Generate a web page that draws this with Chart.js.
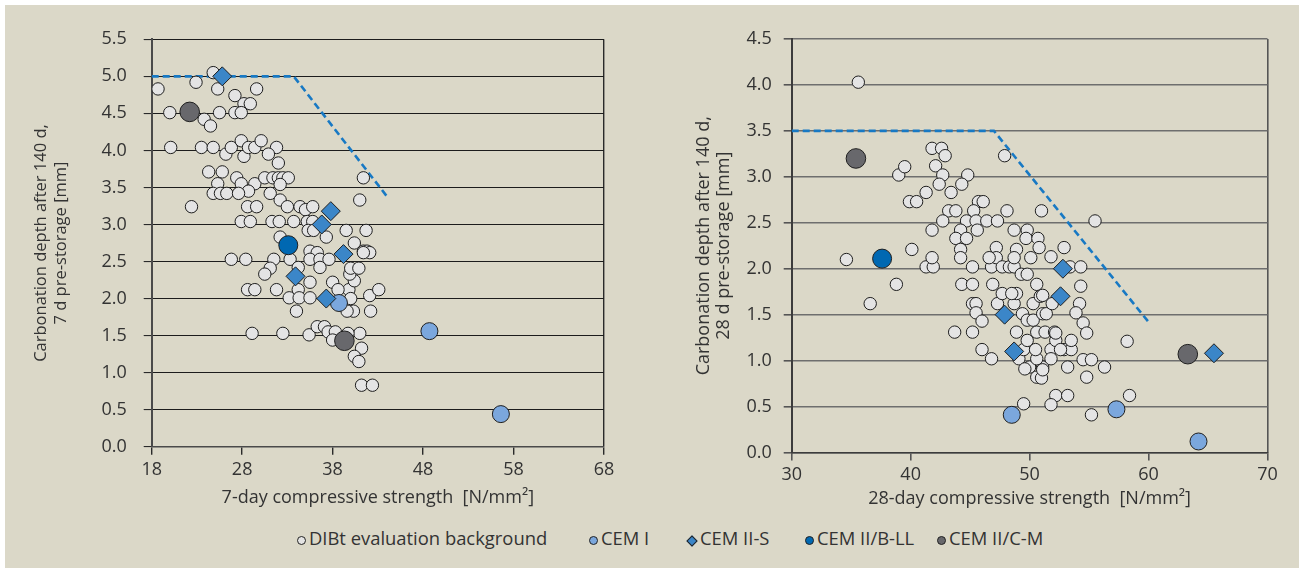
<!DOCTYPE html>
<html>
<head>
<meta charset="utf-8">
<title>Carbonation depth vs. compressive strength</title>
<script src="https://cdn.jsdelivr.net/npm/chart.js@4.4.0/dist/chart.umd.min.js"></script>
<style>
  html, body { margin: 0; padding: 0; background: #ffffff; }
  #panel { position: absolute; left: 5px; top: 5px; width: 1294px; height: 563px; background: #dbd8c8; }
  canvas { position: absolute; top: 0; }
  #chart7 { left: 0; }
  #chart28 { left: 640px; }
  .key { position: absolute; top: 526px; font: 18.4px "Open Sans", "Noto Sans", sans-serif; color: #333333; white-space: nowrap; line-height: 24px; }
  .key i { display: inline-block; width: 9px; height: 9px; border: 1px solid #222; border-radius: 50%; margin-right: 3px; vertical-align: 0px; box-sizing: border-box; }
  .key i.dia { width: 8px; height: 8px; border-radius: 0; transform: rotate(45deg); margin-right: 4px; margin-left: 1px; }
</style>
</head>
<body>
<div id="panel"></div>
<canvas id="chart7" width="640" height="520"></canvas>
<canvas id="chart28" width="660" height="520"></canvas>

<div class="key" style="left:297px"><i style="background:#e4e4e4"></i>DIBt evaluation background</div>
<div class="key" style="left:589px"><i style="background:#7ba7dd"></i>CEM I</div>
<div class="key" style="left:687px"><i class="dia" style="background:#3b86c8"></i>CEM II-S</div>
<div class="key" style="left:805px"><i style="background:#0068b2"></i>CEM II/B-LL</div>
<div class="key" style="left:937px"><i style="background:#68686c"></i>CEM II/C-M</div>

<script>
// ---- Axis ticks ----
const strength7Ticks = [18, 28, 38, 48, 58, 68];
const depth7Ticks = [0, 0.5, 1, 1.5, 2, 2.5, 3, 3.5, 4, 4.5, 5, 5.5];
const strength28Ticks = [30, 40, 50, 60, 70];
const depth28Ticks = [0, 0.5, 1, 1.5, 2, 2.5, 3, 3.5, 4, 4.5];

// ---- 7 d pre-storage: [7-day strength N/mm², carbonation depth mm] ----
const dibt7 = [
  [18.7,4.83],[22.9,4.92],[24.8,5.05],[25.3,4.83],[29.6,4.83],[27.2,4.74],[28.2,4.63],[28.9,4.63],
  [20.0,4.51],[23.8,4.42],[24.5,4.33],[25.5,4.51],[27.2,4.51],[27.9,4.51],
  [20.1,4.04],[23.5,4.04],[24.8,4.04],[26.2,3.95],[26.8,4.04],[27.9,4.13],[28.2,3.92],[28.7,4.04],
  [29.4,4.04],[30.1,4.13],[31.8,4.04],[30.9,3.95],[32.0,3.83],
  [24.3,3.71],[25.8,3.71],[25.3,3.55],[27.4,3.63],[27.9,3.55],[29.4,3.55],[28.7,3.45],
  [24.8,3.42],[25.6,3.42],[26.3,3.42],[27.6,3.42],[30.5,3.63],[31.4,3.63],[32.0,3.63],[32.5,3.63],
  [33.1,3.63],[32.2,3.54],[31.1,3.42],[32.2,3.33],[33.0,3.24],[22.4,3.24],[28.6,3.24],[29.6,3.24],
  [27.9,3.04],[28.9,3.04],[31.3,3.04],[32.1,3.04],[33.7,3.04],[34.4,3.24],[35.0,3.20],[35.8,3.24],
  [35.2,3.04],[35.8,3.04],[35.3,2.92],[35.9,2.92],[37.3,2.83],[39.5,2.92],[41.7,2.92],
  [41.4,3.63],[41.0,3.33],[40.4,2.75],[41.4,2.64],[41.8,2.64],[32.2,2.83],
  [26.8,2.53],[28.4,2.53],[31.5,2.53],[31.1,2.41],[30.5,2.33],[33.3,2.53],[34.2,2.42],
  [35.5,2.64],[36.3,2.62],[35.5,2.53],[36.6,2.53],[37.6,2.53],[36.6,2.42],[35.5,2.22],
  [34.2,2.12],[31.8,2.12],[28.6,2.12],[29.4,2.12],[33.2,2.01],[34.3,2.01],[35.5,2.01],[34.0,1.83],
  [38.0,2.22],[39.8,2.12],[40.4,2.24],[39.9,2.33],[40.0,2.41],[40.9,2.41],[42.1,2.62],[41.4,2.62],
  [40.3,1.83],[39.6,1.83],[42.1,2.04],[43.1,2.12],[42.2,1.83],[40.0,2.00],[38.6,2.12],
  [29.1,1.53],[32.5,1.53],[35.4,1.51],[36.3,1.62],[37.1,1.62],[37.5,1.55],[38.3,1.55],[38.0,1.44],
  [41.0,1.53],[39.7,1.53],[41.2,1.33],[40.4,1.22],[40.9,1.15],[41.2,0.83],[42.4,0.83]
];
const cemI7 = [[48.7,1.56],[56.6,0.44],[38.7,1.94]];
const cemIIS7 = [[25.8,5.0],[37.8,3.18],[36.8,3.0],[39.2,2.6],[33.9,2.3],[37.3,2.0]];
const cemIIBLL7 = [[33.1,2.72]];
const cemIICM7 = [[22.2,4.52],[39.3,1.43]];
const limit7 = [[18,5.0],[33.7,5.0],[44.0,3.38]];

// ---- 28 d pre-storage: [28-day strength N/mm², carbonation depth mm] ----
const dibt28 = [
  [35.6,4.03],[39.0,3.02],[39.5,3.11],[41.8,3.31],[42.6,3.31],[42.9,3.23],[42.1,3.12],[42.7,3.02],
  [42.4,2.92],[43.4,2.83],[41.3,2.83],[39.9,2.73],[40.5,2.73],[44.8,3.02],[44.3,2.92],[47.9,3.23],
  [45.7,2.73],[46.1,2.73],[43.2,2.63],[43.8,2.63],[45.3,2.63],[48.1,2.63],[51.0,2.63],
  [42.7,2.52],[44.7,2.52],[45.5,2.52],[46.4,2.52],[47.3,2.52],[41.8,2.42],[44.2,2.42],[45.6,2.42],
  [48.7,2.42],[49.8,2.42],[43.8,2.33],[44.7,2.33],[44.2,2.21],[40.1,2.21],[47.2,2.23],[48.9,2.21],
  [49.7,2.33],[50.7,2.33],[50.8,2.23],[51.8,2.13],[52.9,2.23],
  [34.6,2.10],[36.6,1.62],[38.8,1.83],[41.3,2.02],[41.9,2.02],[41.8,2.12],[43.7,1.31],[45.2,1.31],
  [44.3,1.83],[45.2,1.83],[45.2,1.62],[45.2,2.02],[44.2,2.12],[45.5,1.62],[45.5,1.52],[46.0,1.43],
  [46.0,1.12],[46.8,1.02],[46.8,2.02],[47.2,2.12],[46.6,2.12],[46.9,1.83],[47.3,1.62],[47.7,1.73],
  [47.7,2.02],[48.3,2.02],[48.7,2.02],[48.7,2.12],[48.7,1.62],[48.9,1.73],[48.5,1.73],[49.3,1.94],
  [49.8,1.94],[49.4,1.51],[48.9,1.31],[49.1,1.02],[49.5,1.12],[49.8,1.22],[49.8,1.44],[50.3,1.44],
  [50.0,0.93],[49.6,0.91],[50.6,0.82],[51.0,0.81],[51.1,0.93],[50.6,1.02],[50.5,1.12],[50.6,1.31],
  [51.3,1.31],[50.3,1.62],[50.9,1.70],[51.1,1.51],[50.6,1.83],[50.1,2.12],[51.4,1.51],[51.9,1.62],
  [51.8,1.12],[52.2,1.22],[52.9,1.12],[53.5,1.12],[53.5,1.22],[51.8,1.02],[52.1,1.31],[53.2,0.93],
  [52.2,0.62],[53.2,0.62],[51.8,0.52],[49.5,0.53],[53.4,2.02],[55.5,2.52],[54.3,2.02],[54.3,1.81],
  [51.1,1.71],[54.2,1.62],[53.9,1.52],[54.5,1.41],[54.8,1.30],[52.2,1.30],[52.6,1.12],[54.5,1.01],
  [55.2,1.01],[56.3,0.93],[51.1,0.90],[54.8,0.82],[55.2,0.41],[58.4,0.62],[58.2,1.21]
];
const cemI28 = [[48.5,0.41],[57.3,0.47],[64.2,0.12]];
const cemIIS28 = [[47.9,1.5],[48.7,1.1],[52.6,1.7],[52.8,2.0],[65.5,1.08]];
const cemIIBLL28 = [[37.6,2.11]];
const cemIICM28 = [[35.4,3.2],[63.3,1.07]];
const limit28 = [[30,3.5],[47.0,3.5],[60.0,1.42]];

const FAMILY = '"Open Sans", "Noto Sans", sans-serif';
const FONT = { family: FAMILY, size: 18, lineHeight: 1.17 };
const TEXT = '#333333';
const toXY = arr => arr.map(([x, y]) => ({ x, y }));

function series(data, opts) {
  return Object.assign({
    type: 'scatter', data: toXY(data), borderColor: '#1e1e1e', borderWidth: 1,
    pointStyle: 'circle', pointHoverRadius: 0, order: 1
  }, opts);
}

function buildChart(id, cfg) {
  const xMax = cfg.xTicks[cfg.xTicks.length - 1];
  return new Chart(document.getElementById(id), {
    data: {
      datasets: [
        { type: 'line', data: toXY(cfg.limit), borderColor: '#1879c4', borderWidth: 2.6,
          borderDash: [7, 4], pointRadius: 0, fill: false, tension: 0, order: 10 },
        series(cfg.dibt, { backgroundColor: '#e4e4e4', pointRadius: 6.2, order: 5 }),
        series(cfg.cemI, { backgroundColor: '#7ba7dd', pointRadius: 8.5, order: 2 }),
        series(cfg.cemIIS, { backgroundColor: '#3b86c8', pointStyle: 'rectRot', pointRadius: 9.5, order: 1 }),
        series(cfg.bll, { backgroundColor: '#0068b2', pointRadius: 9.5, order: 1 }),
        series(cfg.cm, { backgroundColor: '#68686c', pointRadius: 9.8, order: 1 })
      ]
    },
    options: {
      responsive: false,
      devicePixelRatio: 1,
      animation: false,
      events: [],
      layout: { padding: { top: cfg.top, right: cfg.right, bottom: 0, left: 0 } },
      plugins: { legend: { display: false }, tooltip: { enabled: false } },
      scales: {
        x: {
          type: 'linear', min: cfg.xTicks[0], max: xMax,
          afterBuildTicks: s => { s.ticks = cfg.xTicks.map(v => ({ value: v })); },
          afterFit: s => { s.height = cfg.xHeight; },
          ticks: { font: FONT, color: TEXT, padding: cfg.xPad, maxRotation: 0, callback: v => String(v) },
          grid: {
            drawOnChartArea: true,
            color: c => (c.tick && c.tick.value === xMax) ? cfg.frame : 'transparent',
            tickColor: cfg.tickColor, tickLength: 8, lineWidth: cfg.frameWidth
          },
          border: { color: cfg.axisColor, width: 1.6 },
          title: { display: true, text: cfg.xTitle, font: FONT, color: TEXT,
                   padding: { top: 0, bottom: cfg.xTitlePad } }
        },
        y: {
          type: 'linear', min: 0, max: cfg.yTicks[cfg.yTicks.length - 1],
          afterBuildTicks: s => { s.ticks = cfg.yTicks.map(v => ({ value: v })); },
          afterFit: s => { s.width = 151.7; },
          ticks: { font: FONT, color: TEXT, padding: cfg.yPad, callback: v => v.toFixed(1) },
          grid: { color: cfg.gridColor, lineWidth: cfg.gridWidth, tickColor: cfg.tickColor, tickLength: 8 },
          border: { color: cfg.axisColor, width: 2 },
          title: { display: true, text: cfg.yTitle, font: cfg.yTitleFont,
                   color: TEXT, padding: { top: cfg.yTitlePad, bottom: 0 } }
        }
      }
    }
  });
}

buildChart('chart7', {
  xTicks: strength7Ticks, yTicks: depth7Ticks,
  dibt: dibt7, cemI: cemI7, cemIIS: cemIIS7, bll: cemIIBLL7, cm: cemIICM7, limit: limit7,
  top: 39.3, right: 36, xHeight: 73.3, xPad: 5, yPad: 17, xTitlePad: 11.5, yTitlePad: 30.5,
  yTitleFont: { family: FAMILY, size: 16.5, lineHeight: 1.25 },
  gridColor: '#1c1c1c', gridWidth: 1.1, tickColor: '#2a2a2a', axisColor: '#4a4a4a',
  frame: '#2a2a2a', frameWidth: 1.4,
  xTitle: '7-day compressive strength  [N/mm\u00b2]',
  yTitle: ['Carbonation depth after 140 d,', '7 d pre-storage [mm]']
});

buildChart('chart28', {
  xTicks: strength28Ticks, yTicks: depth28Ticks,
  dibt: dibt28, cemI: cemI28, cemIIS: cemIIS28, bll: cemIIBLL28, cm: cemIICM28, limit: limit28,
  top: 39, right: 32.5, xHeight: 67.5, xPad: 3.5, yPad: 12, xTitlePad: 10.5, yTitlePad: 53.5,
  yTitleFont: { family: FAMILY, size: 18, lineHeight: 1.11 },
  gridColor: '#6e6e6e', gridWidth: 1.6, tickColor: '#555555', axisColor: '#3c3c3c',
  frame: '#555555', frameWidth: 1.6,
  xTitle: '28-day compressive strength  [N/mm\u00b2]',
  yTitle: ['Carbonation depth after 140 d,', '28 d pre-storage [mm]']
});
</script>
</body>
</html>
